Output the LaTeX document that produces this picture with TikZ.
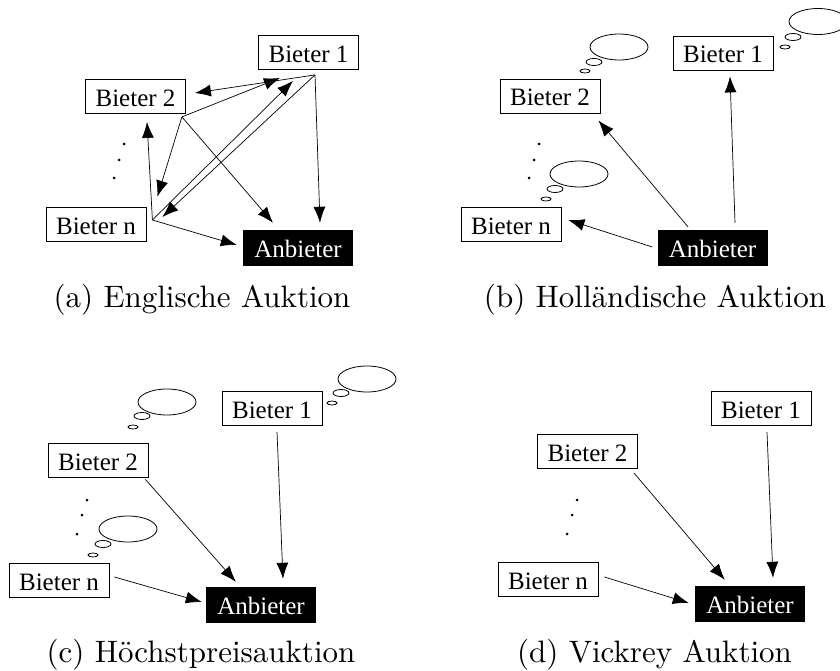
\documentclass[tikz,border=0pt]{standalone}
\usepackage{fontspec}
\usetikzlibrary{arrows.meta,calc}
\newfontfamily\boxfont{Liberation Serif}
\newfontfamily\capfont{lmroman10-regular}[Extension=.otf]
\tikzset{
  bidder/.style={draw, line width=0.8pt, minimum width=100pt, minimum height=34pt,
    inner sep=0pt, text height=20pt, text depth=0pt,
    font=\boxfont\fontsize{25}{29}\selectfont},
  seller/.style={fill=black, text=white, minimum width=110pt, minimum height=36pt,
    inner sep=0pt, text height=18pt, text depth=0pt,
    font=\boxfont\fontsize{25}{29}\selectfont},
  conn/.style={line width=0.7pt, -{Latex[length=16pt,width=12pt]}},
  bubble/.style={line width=0.8pt},
  subcap/.style={anchor=base, inner sep=0pt, font=\capfont\fontsize{31}{37}\selectfont},
}
% thought bubble: big cloud, medium and small ellipses
\newcommand\thoughtbubble[3]{%
  \draw[bubble] (#1) ellipse [x radius=29pt, y radius=13pt];
  \draw[bubble] (#2) ellipse [x radius=8pt, y radius=3.5pt];
  \draw[bubble] (#3) ellipse [x radius=5pt, y radius=2pt];}
\newcommand\vdotsat[3]{%
  \fill (#1) circle [radius=1.5pt];
  \fill (#2) circle [radius=1.5pt];
  \fill (#3) circle [radius=1.5pt];}
\begin{document}
\begin{tikzpicture}[x=1pt,y=-1pt]
\useasboundingbox (0,0) rectangle (840,671);

% ---------- (a) Englische Auktion ----------
\node[bidder] (e1) at (308.5,52.5) {Bieter 1};
\node[bidder] (e2) at (135.5,96.5) {Bieter 2};
\node[bidder] (en) at (96,224) {Bieter n};
\node[seller] (eA) at (298,248) {Anbieter};
\vdotsat{124,144}{119,160}{114,178}
\coordinate (p1) at ($(e1.south)+(6.5,5)$);
\coordinate (p2) at ($(e2.south east)+(-4,3)$);
\coordinate (pn) at ($(en.east)+(6,-4)$);
\draw[conn] (p1) -- ($(e2.east)+(9,-3.5)$);
\draw[conn] (p1) -- ($(eA.north)+(22,-7)$);
\draw[conn] (p1) -- ($(en.east)+(16,-7)$);
\draw[conn] (p2) -- ($(e1.south)+(-28.5,8)$);
\draw[conn] (p2) -- ($(en.north east)+(11,-10)$);
\draw[conn] (p2) -- ($(eA.north)+(-25,-7)$);
\draw[conn] (pn) -- ($(e2.south)+(11.5,8)$);
\draw[conn] (pn) -- ($(e1.south)+(-15.5,11)$);
\draw[conn] (pn) -- ($(eA.west)+(-6,-3)$);
\node[subcap] (capa) at (202,307) {(a) Englische Auktion};

% ---------- (b) Holländische Auktion ----------
\node[bidder] (h1) at (723,53) {Bieter 1};
\node[bidder] (h2) at (550,96) {Bieter 2};
\node[bidder] (hn) at (511,224) {Bieter n};
\node[seller] (hA) at (712.5,248) {Anbieter};
\vdotsat{539,144}{534,160}{529,178}
\thoughtbubble{619,47}{594,62}{585,71}
\thoughtbubble{818,21.5}{793,37}{785,47}
\thoughtbubble{579,174}{555,189}{546,199}
\draw[conn] ($(hA.west)+(-5,-1)$) -- ($(hn.east)+(7,-4)$);
\draw[conn] ($(hA.north)+(-24.5,-3)$) -- ($(h2.south east)+(-2,7)$);
\draw[conn] ($(hA.north)+(22.5,-7)$) -- ($(h1.south)+(7,6)$);
\node[subcap] (capb) at (655,307) {(b) Holländische Auktion};

% ---------- (c) Höchstpreisauktion ----------
\node[bidder] (f1) at (272,408.5) {Bieter 1};
\node[bidder] (f2) at (98,460) {Bieter 2};
\node[bidder] (fn) at (59,580) {Bieter n};
\node[seller] (fA) at (261,605) {Anbieter};
\vdotsat{87,500}{82,515}{77,534}
\thoughtbubble{367,379}{341,393}{332,403}
\thoughtbubble{167,402}{142,416}{133,427}
\thoughtbubble{128,529}{103,544}{93,555}
\draw[conn] ($(f1.south)+(5,6)$) -- ($(fA.north)+(22,-8)$);
\draw[conn] ($(f2.south east)+(-3,2)$) -- ($(fA.north west)+(30,-5)$);
\draw[conn] ($(fn.east)+(5,-3)$) -- ($(fA.west)+(-4,-3)$);
\node[subcap] (capc) at (201,662) {(c) Höchstpreisauktion};

% ---------- (d) Vickrey Auktion ----------
\node[bidder] (v1) at (761,408.5) {Bieter 1};
\node[bidder] (v2) at (587.5,451.5) {Bieter 2};
\node[bidder] (vn) at (548,579.5) {Bieter n};
\node[seller] (vA) at (750,604) {Anbieter};
\vdotsat{577,500}{572,515}{567,534}
\draw[conn] ($(v1.south)+(6,6)$) -- ($(vA.north)+(23,-8)$);
\draw[conn] ($(v2.south east)+(-4,4)$) -- ($(vA.north west)+(30,-6)$);
\draw[conn] ($(vn.east)+(6,-2.5)$) -- ($(vA.west)+(-6,-1)$);
\node[subcap] (capd) at (654.5,662) {(d) Vickrey Auktion};
\end{tikzpicture}
\end{document}
